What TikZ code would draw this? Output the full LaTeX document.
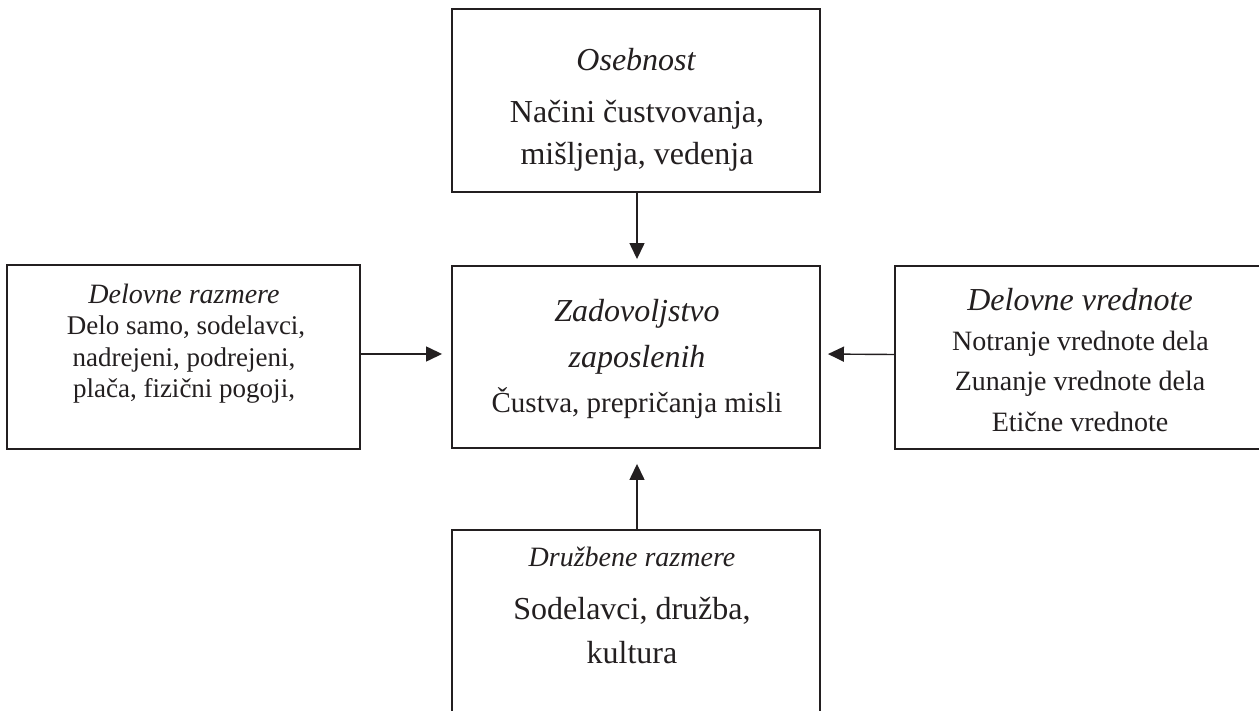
\documentclass[tikz,border=0pt]{standalone}
\usepackage{fontspec}
\setmainfont{Liberation Serif}
\usetikzlibrary{arrows.meta}
\definecolor{ink}{HTML}{231F20}
\tikzset{
  box/.style={draw=ink, line width=1.9pt, inner sep=0pt, rectangle},
  txt/.style={inner sep=0pt, anchor=base, text=ink},
  arr/.style={draw=ink, line width=1.4pt, -{Triangle[length=16pt,width=15pt]}},
}
\newcommand{\fs}[1]{\fontsize{#1}{#1}\selectfont}
\begin{document}
\begin{tikzpicture}[x=1pt,y=-1pt]
\useasboundingbox (0,0) rectangle (1259,711);
\fill[white] (0,0) rectangle (1259,711);
\clip (0,0) rectangle (1259,711);
% boxes
\node[box, minimum width=368pt, minimum height=183pt] (top) at (636,100.5) {};
\node[box, minimum width=368pt, minimum height=182pt] (mid) at (636,357) {};
\node[box, minimum width=353pt, minimum height=184pt] (left) at (183.5,357) {};
\node[box, minimum width=390pt, minimum height=183pt] (right) at (1090,357.5) {};
\node[box, minimum width=368pt, minimum height=230pt] (bot) at (636,645) {};
% top text
\node[txt, font=\fs{32}\itshape] (t1) at (636,71) {Osebnost};
\node[txt, font=\fs{32}] (t2) at (637,123) {Načini čustvovanja,};
\node[txt, font=\fs{32}] (t3) at (637,165) {mišljenja, vedenja};
% center text
\node[txt, font=\fs{32}\itshape] (m1) at (637,322) {Zadovoljstvo};
\node[txt, font=\fs{32}\itshape] (m2) at (637,367) {zaposlenih};
\node[txt, font=\fs{29}] (m3) at (637,412) {Čustva, prepričanja misli};
% left text
\node[txt, font=\fs{28}\itshape] (l1) at (184,304) {Delovne razmere};
\node[txt, font=\fs{27}] (l2) at (186,335) {Delo samo, sodelavci,};
\node[txt, font=\fs{27}] (l3) at (184,366.5) {nadrejeni, podrejeni,};
\node[txt, font=\fs{27}] (l4) at (184,397.5) {plača, fizični pogoji,};
% right text
\node[txt, font=\fs{32}\itshape] (r1) at (1080,310.5) {Delovne vrednote};
\node[txt, font=\fs{28}] (r2) at (1080.5,351) {Notranje vrednote dela};
\node[txt, font=\fs{28}] (r3) at (1080,390.5) {Zunanje vrednote dela};
\node[txt, font=\fs{28}] (r4) at (1080,431.5) {Etične vrednote};
% bottom text
\node[txt, font=\fs{28}\itshape] (b1) at (632,566.5) {Družbene razmere};
\node[txt, font=\fs{32}] (b2) at (632,619) {Sodelavci, družba,};
\node[txt, font=\fs{32}] (b3) at (632,663) {kultura};
% arrows
\draw[arr, shorten >=6pt] ([xshift=1pt]top.south) -- ([xshift=1pt]mid.north);
\draw[arr, shorten >=15pt] ([xshift=1pt]bot.north) -- ([xshift=1pt]mid.south);
\draw[arr, shorten >=9pt] ([yshift=3pt]left.east) -- ([yshift=3pt]mid.west);
\draw[arr, shorten >=7pt] ([yshift=3pt]right.west) -- ([yshift=3pt]mid.east);
\end{tikzpicture}
\end{document}
